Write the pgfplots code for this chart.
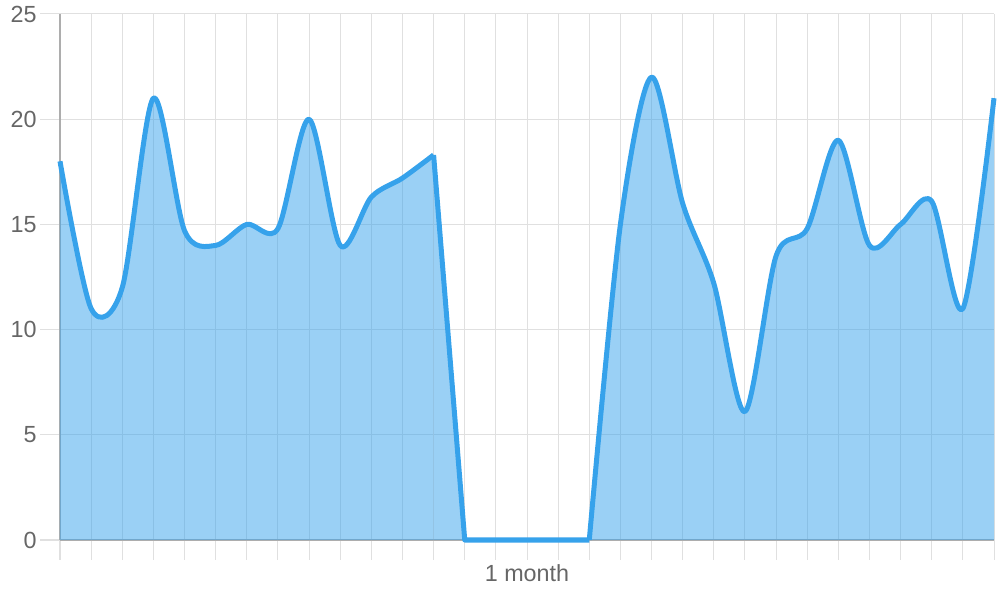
\documentclass[border=0pt]{standalone}
\usepackage{pgfplots}
\pgfplotsset{compat=1.18}
\usepackage{fontspec}
\setmainfont{Liberation Sans}
\definecolor{cjblue}{RGB}{54,162,235}
\definecolor{tickgray}{RGB}{102,102,102}
\begin{document}
\begin{tikzpicture}
\begin{axis}[
  name=ax,
  scale only axis,
  width=700.5pt, height=394.5pt,
  xmin=0, xmax=30, ymin=0, ymax=25,
  xtick={0,...,30},
  xticklabels={,,,,,,,,,,,,,,,1 month},
  ytick={0,5,...,25},
  grid=major,
  grid style={draw=black!12, line width=0.75pt},
  axis x line*=bottom, axis y line*=left,
  axis line style={draw=black!32, line width=0.75pt, -},
  tick align=outside,
  major tick length=15pt,
  tick style={draw=black!12, line width=0.75pt},
  ticklabel style={font=\fontsize{17.5}{21}\selectfont, text=tickgray},
  yticklabel style={xshift=1pt},
  /pgf/number format/assume math mode=true,
  clip=false,
]
% fills
\addplot[draw=none, fill=cjblue, fill opacity=0.5, smooth] coordinates {
(0,18) (1,11) (2,12) (3,21) (4,14.7) (5,14) (6,15) (7,14.8) (8,20) (9,14) (10,16.3) (11,17.2) (12,18.3)
} \closedcycle;
\addplot[draw=none, fill=cjblue, fill opacity=0.5] coordinates {
(12,18.3) (13,0)
} \closedcycle;
\addplot[draw=none, fill=cjblue, fill opacity=0.5, smooth] coordinates {
(17,0) (18,15) (19,22) (20,16) (21,12.2) (22,6.1) (23,13.5) (24,14.8) (25,19) (26,14) (27,15) (28,16.1) (29,11) (30,21)
} \closedcycle;
% lines
\addplot[draw=cjblue, line width=3.75pt, smooth, line join=round] coordinates {
(0,18) (1,11) (2,12) (3,21) (4,14.7) (5,14) (6,15) (7,14.8) (8,20) (9,14) (10,16.3) (11,17.2) (12,18.3)
};
\addplot[draw=cjblue, line width=3.75pt, line join=round] coordinates {
(12,18.3) (13,0) (14,0) (15,0) (16,0) (17,0)
};
\addplot[draw=cjblue, line width=3.75pt, smooth, line join=round] coordinates {
(17,0) (18,15) (19,22) (20,16) (21,12.2) (22,6.1) (23,13.5) (24,14.8) (25,19) (26,14) (27,15) (28,16.1) (29,11) (30,21)
};
\end{axis}
\path (ax.south west) ++(-45pt,-45pt) rectangle ([shift={(4.5pt,10.5pt)}]ax.north east);
\end{tikzpicture}
\end{document}
